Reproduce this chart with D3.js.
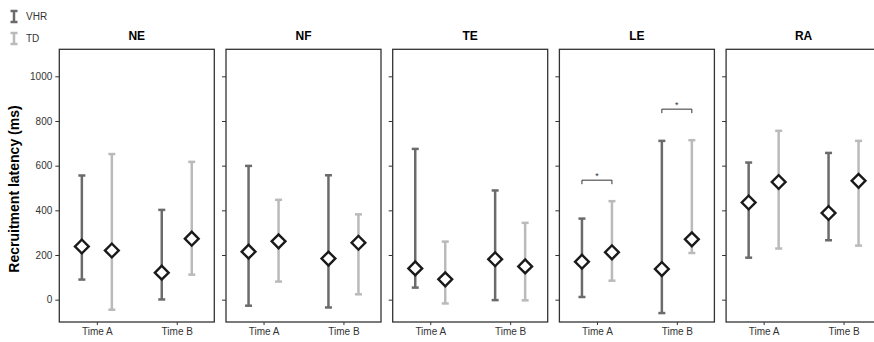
<!DOCTYPE html>
<html>
<head>
<meta charset="utf-8">
<script src="https://cdn.jsdelivr.net/npm/d3@7"></script>
<style>
  body { margin: 0; background: #fff; }
  svg text { font-family: "Liberation Sans", Arial, sans-serif; }
</style>
</head>
<body>
<svg id="chart" width="874" height="342"></svg>
<script>
// dati
const panels = ["NE", "NF", "TE", "LE", "RA"];
const times = ["Time A", "Time B"];
const groups = ["VHR", "TD"];

// valori per pannello: [Time A VHR, Time A TD, Time B VHR, Time B TD]
const means = {
  NE: [238, 220, 121, 273],
  NF: [215, 261, 184, 255],
  TE: [140, 91, 181, 149],
  LE: [170, 212, 137, 270],
  RA: [435, 527, 388, 532]
};
const lows = {
  NE: [90, -45, 1, 112],
  NF: [-27, 81, -35, 24],
  TE: [54, -17, -2, -3],
  LE: [12, 85, -60, 209],
  RA: [188, 229, 266, 242]
};
const highs = {
  NE: [556, 652, 402, 617],
  NF: [599, 447, 557, 382],
  TE: [675, 260, 489, 344],
  LE: [363, 441, 711, 714],
  RA: [614, 756, 657, 711]
};
// parentesi di significatività (pannello, tempo, livello)
const signif = [
  { panel: "LE", time: "Time A", y: 535 },
  { panel: "LE", time: "Time B", y: 853 }
];
const yTicks = [0, 200, 400, 600, 800, 1000];

const colors = { VHR: "#6b6b6b", TD: "#bababa" };

const svg = d3.select("#chart");
const yTop = 49.3, yBottom = 322, left0 = 59.3;
const panelW = 155, step = 166.7;

const px = d3.scaleBand().domain(panels).range([left0, left0 + step * panels.length]);
const y = d3.scaleLinear().domain([-100, 1121]).range([yBottom, yTop]);
const x = d3.scalePoint().domain(times).range([0, panelW]).padding(0.47);
const off = { VHR: -15, TD: 15 };

panels.forEach((p, pi) => {
  const g = svg.append("g").attr("transform", `translate(${px(p)},0)`);

  // assi
  const yAxis = d3.axisLeft(y).tickValues(yTicks).tickSize(4).tickPadding(3)
    .tickFormat(pi === 0 ? d3.format("d") : "");
  const ya = g.append("g").call(yAxis);
  ya.select(".domain").remove();
  ya.selectAll("line").attr("stroke", "#333").attr("stroke-width", 1);
  ya.selectAll("text").attr("font-size", 10).attr("fill", "#333");

  const xAxis = d3.axisBottom(x).tickSize(3).tickPadding(3);
  const xa = g.append("g").attr("transform", `translate(0,${yBottom})`).call(xAxis);
  xa.select(".domain").remove();
  xa.selectAll("line").attr("stroke", "#333");
  xa.selectAll("text").attr("font-size", 10).attr("fill", "#333");

  // riquadro
  g.append("rect")
    .attr("x", 0).attr("y", yTop)
    .attr("width", panelW).attr("height", yBottom - yTop)
    .attr("fill", "none").attr("stroke", "#333").attr("stroke-width", 1.3);

  g.append("text")
    .attr("x", panelW / 2).attr("y", 40)
    .attr("text-anchor", "middle")
    .attr("font-size", 12).attr("font-weight", "bold")
    .text(p);

  const rows = [];
  times.forEach((t, ti) => groups.forEach((gr, gi) => {
    const k = ti * 2 + gi;
    rows.push({ t, gr, m: means[p][k], lo: lows[p][k], hi: highs[p][k] });
  }));

  const bars = g.selectAll(".bar").data(rows).enter().append("g")
    .attr("transform", d => `translate(${x(d.t) + off[d.gr]},0)`);
  bars.append("line")
    .attr("y1", d => y(d.lo)).attr("y2", d => y(d.hi))
    .attr("stroke", d => colors[d.gr]).attr("stroke-width", 2.5);
  bars.selectAll(".cap").data(d => [d.lo, d.hi].map(v => ({ v, gr: d.gr }))).enter()
    .append("line")
    .attr("x1", -3.5).attr("x2", 3.5)
    .attr("y1", d => y(d.v)).attr("y2", d => y(d.v))
    .attr("stroke", d => colors[d.gr]).attr("stroke-width", 2.5);
  bars.append("path")
    .attr("d", d3.symbol(d3.symbolSquare, 95))
    .attr("transform", d => `translate(0,${y(d.m)}) rotate(45)`)
    .attr("fill", "#fff").attr("stroke", "#1a1a1a").attr("stroke-width", 2.4);

  // significatività
  signif.filter(s => s.panel === p).forEach(s => {
    const x1 = x(s.time) + off.VHR, x2 = x(s.time) + off.TD, yy = y(s.y);
    g.append("path")
      .attr("d", `M${x1},${yy + 4}V${yy}H${x2}V${yy + 4}`)
      .attr("fill", "none").attr("stroke", "#333").attr("stroke-width", 1);
    g.append("text")
      .attr("x", (x1 + x2) / 2).attr("y", yy - 1)
      .attr("text-anchor", "middle").attr("font-size", 9).attr("fill", "#333")
      .text("*");
  });
});

// etichetta asse y
svg.append("text")
  .attr("transform", `translate(19,189) rotate(-90)`)
  .attr("text-anchor", "middle")
  .attr("font-size", 14).attr("font-weight", "bold")
  .text("Recruitment latency (ms)");

// legenda
const leg = svg.append("g");
groups.forEach((gr, i) => {
  const cy = 16.5 + i * 22, cx = 14;
  leg.append("path")
    .attr("d", `M${cx - 3.5},${cy - 5.5}H${cx + 3.5}M${cx},${cy - 5.5}V${cy + 5.5}M${cx - 3.5},${cy + 5.5}H${cx + 3.5}`)
    .attr("stroke", colors[gr]).attr("stroke-width", 2.5).attr("fill", "none");
  leg.append("text")
    .attr("x", 26).attr("y", cy + 3.5)
    .attr("font-size", 10).attr("fill", "#333")
    .text(gr);
});
</script>
</body>
</html>
